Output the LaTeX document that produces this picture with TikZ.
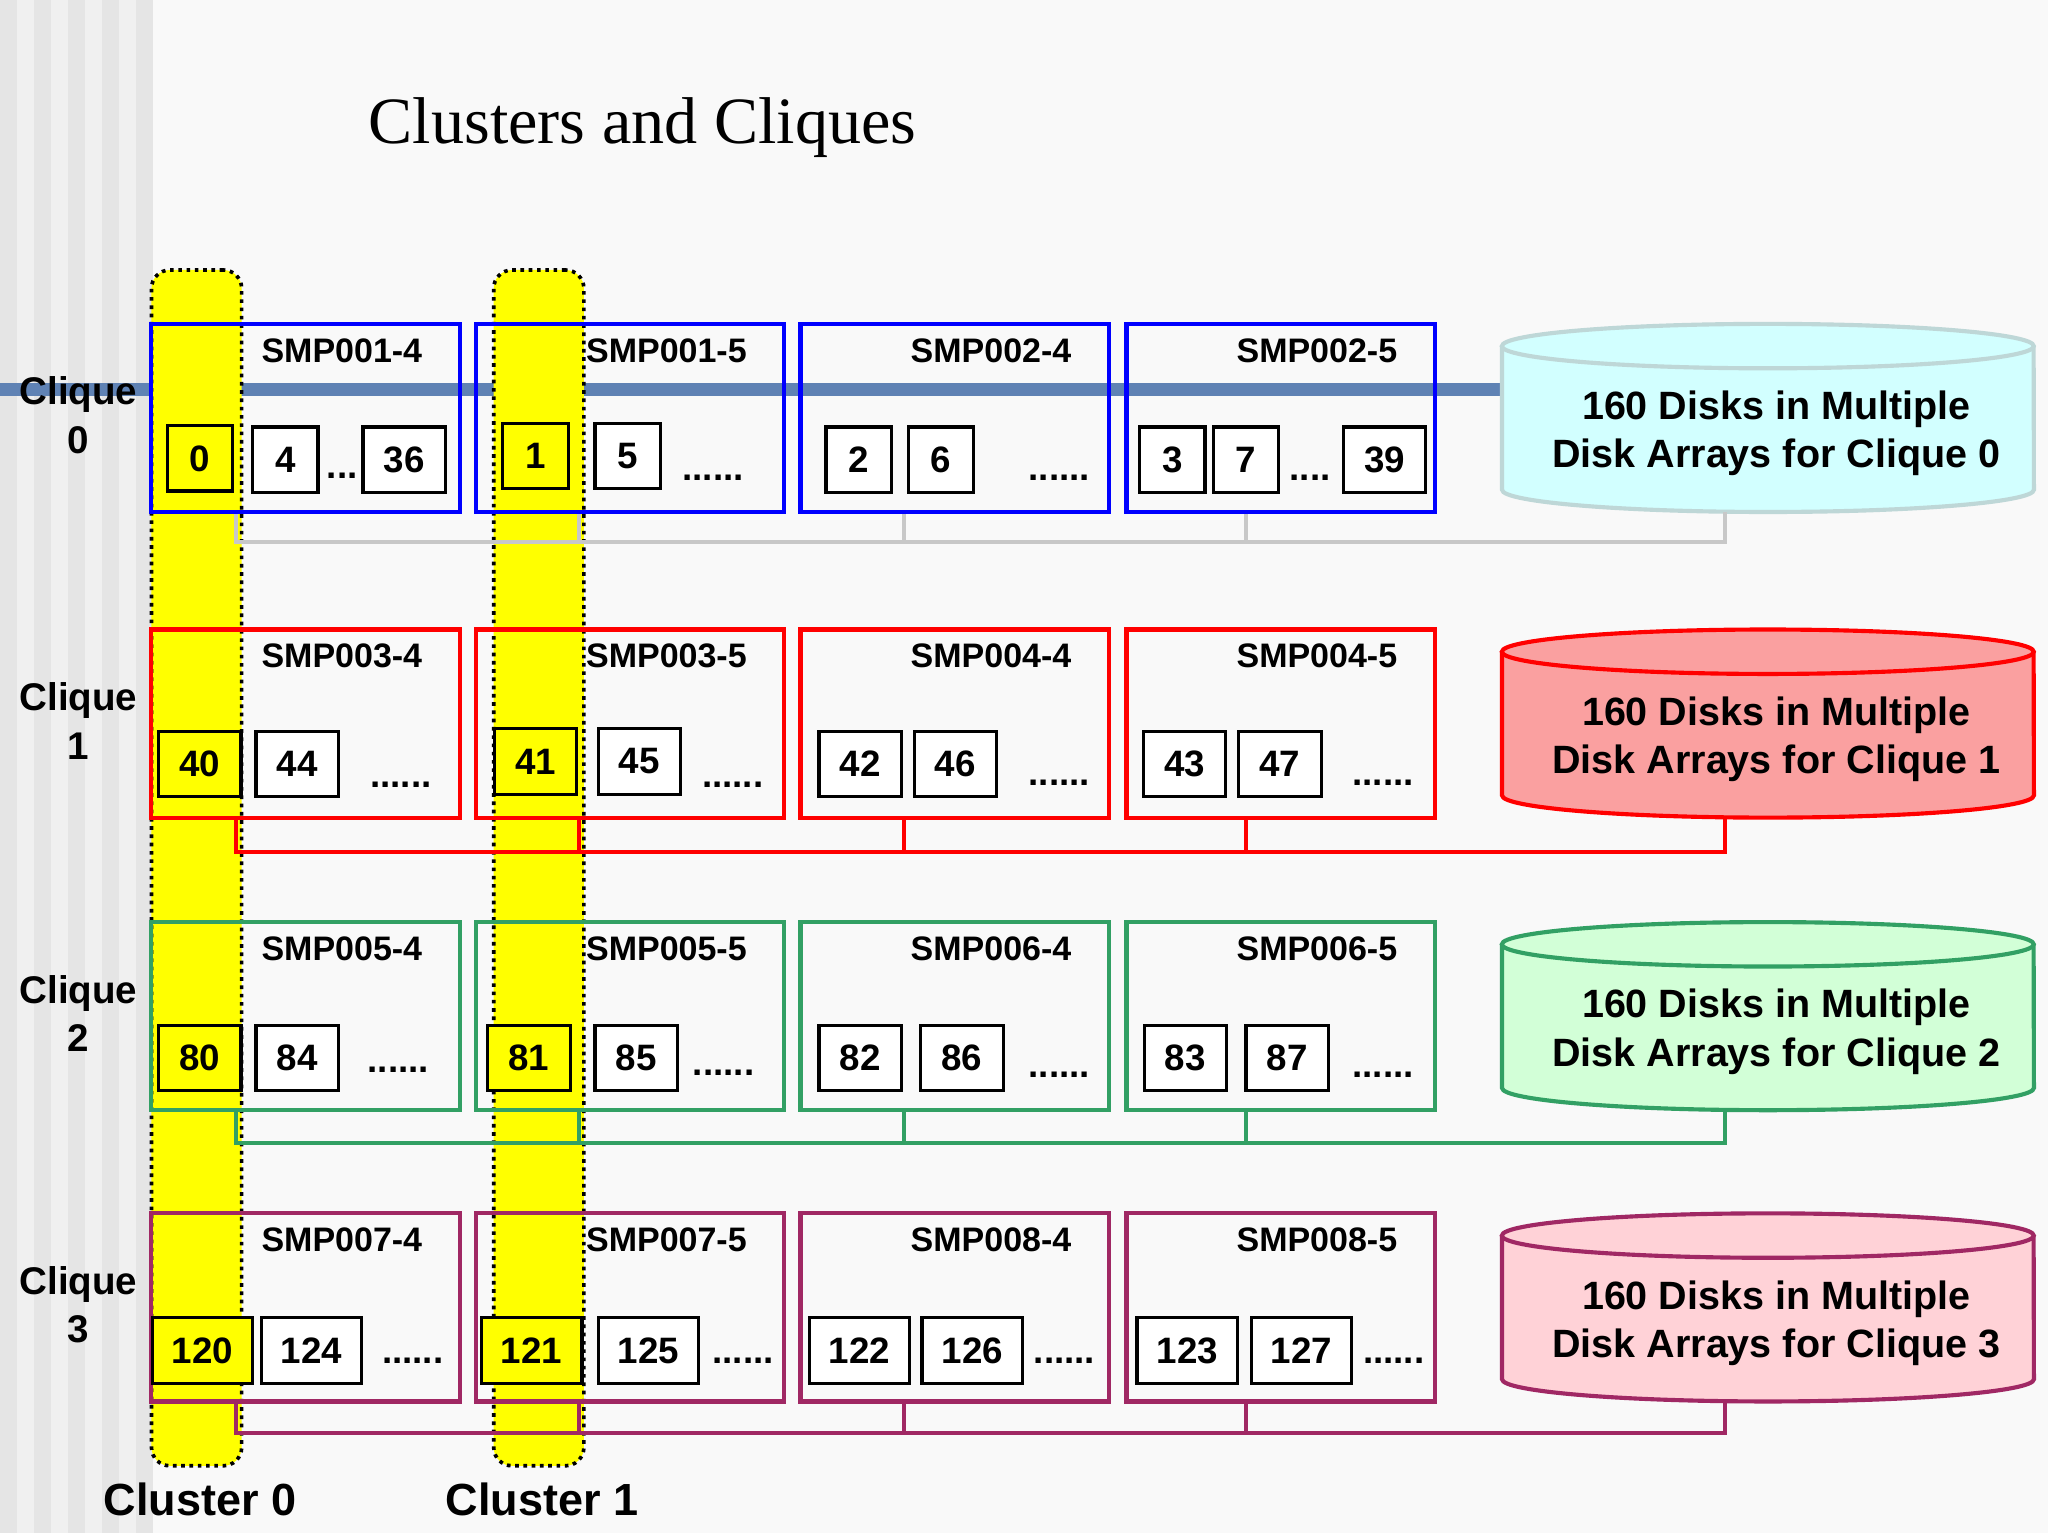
\documentclass[tikz,border=0pt]{standalone}
\usepackage{fontspec}
\setmainfont{Liberation Sans}
\newfontfamily\titlefont{Liberation Serif}
\usetikzlibrary{positioning}
\definecolor{bandblue}{RGB}{95,130,180}
\definecolor{smpblue}{RGB}{0,0,255}
\definecolor{smpred}{RGB}{255,0,0}
\definecolor{smpgreen}{RGB}{50,160,100}
\definecolor{smppurple}{RGB}{160,40,100}
\definecolor{busgray}{RGB}{200,200,200}
\definecolor{diskA}{RGB}{210,255,255}
\definecolor{diskAline}{RGB}{190,215,215}
\definecolor{diskB}{RGB}{250,160,160}
\definecolor{diskC}{RGB}{210,255,215}
\definecolor{diskD}{RGB}{255,210,215}
\definecolor{clusteryellow}{RGB}{255,255,0}
\newcommand\dotrun[1]{\ifcase#1\or.\or..\or...\or....\or.....\or......\fi}
\begin{document}
\begin{tikzpicture}[x=0.01cm, y=-0.01cm,
  smp/.style={draw=#1, line width=0.9pt, minimum width=2.36cm, minimum height=1.44cm, inner sep=0pt},
  smplbl/.style={font=\bfseries\fontsize{7.4}{9}\selectfont, anchor=east},
  cpu/.style={draw, line width=0.7pt, font=\bfseries\fontsize{8}{9}\selectfont, inner sep=0pt, minimum height=0.5cm},
  dots/.style={font=\bfseries\fontsize{8}{9}\selectfont},
  cluster/.style={fill=clusteryellow, draw, densely dotted, line width=0.8pt, rounded corners=4pt, minimum width=0.69cm, minimum height=9.15cm},
  lbl/.style={font=\bfseries\fontsize{8.4}{10.5}\selectfont, align=center},
  disktext/.style={font=\bfseries\fontsize{8.6}{10.5}\selectfont, align=center}]
\useasboundingbox (0,0) rectangle (1568,1174);
% background
\fill[gray!5] (0,0) rectangle (1568,1174);
\fill[gray!12] (0,0) rectangle (115,1174);
\foreach \i in {0,2,...,8}
  \fill[gray!20] ({\i*13},0) rectangle ({\i*13+13},1174);
\node[font=\titlefont\fontsize{14.4}{16}\selectfont] (title) at (492,98) {Clusters and Cliques};
\fill[bandblue] (0,293) rectangle (1150,303);

% clusters
\node[cluster] (cl0) at (150.5,664.5) {};
\node[cluster] (cl1) at (412.5,664.5) {};
\node[font=\bfseries\fontsize{9.8}{11}\selectfont] at (153,1148) {Cluster 0};
\node[font=\bfseries\fontsize{9.8}{11}\selectfont] at (415,1148) {Cluster 1};

% SMP boxes per clique
\foreach \r/\col/\yc in {0/smpblue/320, 1/smpred/554, 2/smpgreen/778, 3/smppurple/1001} {
  \node[lbl] (q\r) at (60,{\yc-2}) {Clique\\\r};
  \foreach \j/\x in {0/234, 1/482.5, 2/731, 3/980.5} {
    \pgfmathtruncatemacro\a{2*\r+1+int(\j/2)}
    \pgfmathtruncatemacro\b{4+mod(\j,2)}
    \node[smp=\col] (s\r\j) at (\x,\yc) {};
    \node[smplbl] at ([xshift=-0.18cm,yshift=-0.22cm]s\r\j.north east) {SMP00\a-\b};
  }
}

% processors
\foreach \t/\x/\y/\w/\f in {0/153/351/0.5/clusteryellow, 4/218.5/352/0.5/white, 36/309.5/352/0.63/white,
  1/410/349/0.5/clusteryellow, 5/480.5/349/0.5/white, 2/657.5/352/0.5/white, 6/720.5/352/0.5/white,
  3/897.5/352/0.5/white, 7/954/352/0.5/white, 39/1060/352/0.63/white,
  40/153/585/0.63/clusteryellow, 44/227.5/585/0.63/white, 41/410/583/0.63/clusteryellow, 45/489.5/583/0.63/white,
  42/658.5/585/0.63/white, 46/731.5/585/0.63/white, 43/907/585/0.63/white, 47/980/585/0.63/white,
  80/153/810/0.63/clusteryellow, 84/227.5/810/0.63/white, 81/405/810/0.63/clusteryellow, 85/487/810/0.63/white,
  82/658.5/810/0.63/white, 86/736.5/810/0.63/white, 83/907.5/810/0.63/white, 87/985.5/810/0.63/white,
  120/155/1034/0.77/clusteryellow, 124/238.5/1034/0.77/white, 121/407/1034/0.77/clusteryellow, 125/496.5/1034/0.77/white,
  122/658/1034/0.77/white, 126/744.5/1034/0.77/white, 123/909/1034/0.77/white, 127/996.5/1034/0.77/white}
  \node[cpu, fill=\f, minimum width=\w cm] (p\t) at (\x,\y) {\t};
\foreach \n/\x/\y in {3/262/364, 6/546/366, 6/811/366, 4/1003/366,
  6/307/601, 6/561/601, 6/811/599, 6/1059/599,
  6/305/819, 6/554/821, 6/811/823, 6/1059/823,
  6/316/1042, 6/569/1042, 6/815/1042, 6/1067/1042}
  \node[dots] at (\x,\y) {\dotrun{\n}};

% disks and buses
\foreach \r/\col/\fcol/\dcol/\t/\bb/\by in {0/busgray/diskA/diskAline/248/392/415, 1/smpred/diskB/smpred/482/626/652,
  2/smpgreen/diskC/smpgreen/706/850/875, 3/smppurple/diskD/smppurple/929/1073/1097} {
  \filldraw[fill=\fcol, draw=\dcol, line width=0.9pt] (1150,{\t+17}) -- (1150,{\bb-17})
    arc[start angle=180, end angle=360, x radius=2.035cm, y radius=0.17cm] -- (1557,{\t+17});
  \filldraw[fill=\fcol, draw=\dcol, line width=0.9pt] (1353.5,{\t+17}) ellipse [x radius=2.035cm, y radius=0.17cm];
  \node[disktext] (d\r) at (1360,{(\t+\bb)/2+12}) {160 Disks in Multiple\\Disk Arrays for Clique \r};
  \coordinate (db\r) at (1321,\bb);
  \coordinate (b\r) at (1321,\by);
  \draw[\col, line width=0.9pt] ([xshift=-0.53cm]s\r0.south) |- (b\r) -- (db\r);
  \draw[\col, line width=0.9pt] ([xshift=-0.395cm]s\r1.south) -- ([xshift=-0.395cm]s\r1.south |- b\r);
  \draw[\col, line width=0.9pt] ([xshift=-0.39cm]s\r2.south) -- ([xshift=-0.39cm]s\r2.south |- b\r);
  \draw[\col, line width=0.9pt] ([xshift=-0.265cm]s\r3.south) -- ([xshift=-0.265cm]s\r3.south |- b\r);
}
\end{tikzpicture}
\end{document}
